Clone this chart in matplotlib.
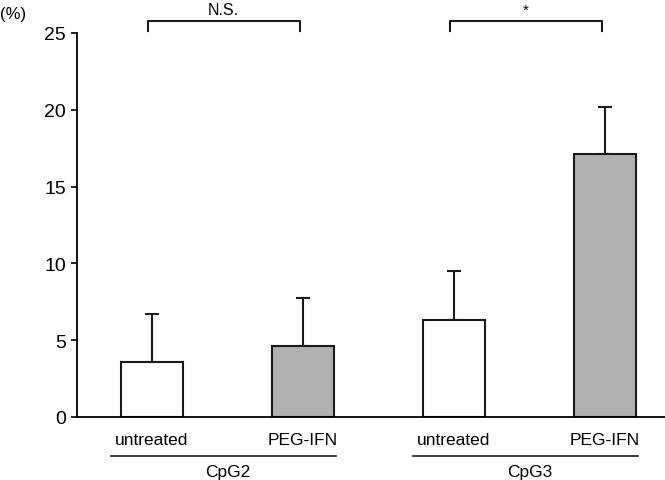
import matplotlib
matplotlib.use("Agg")
import matplotlib.pyplot as plt

plt.rcParams['font.family'] = ['Liberation Sans', 'DejaVu Sans']

treatments = ["untreated", "PEG-IFN", "untreated", "PEG-IFN"]
groups = ["CpG2", "CpG3"]
means = [3.6, 4.6, 6.3, 17.1]
errors = [3.1, 3.15, 3.2, 3.1]
colors = ["white", "#b0b0b0", "white", "#b0b0b0"]
significance = ["N.S.", "*"]
yticks = [0, 5, 10, 15, 20, 25]

fig = plt.figure(figsize=(6.65, 4.81), dpi=100)
ax = fig.add_axes([77/665, 63/481, 1 - 77/665, (418-34)/481])

x = list(range(len(means)))
ax.bar(x, means, width=0.41, color=colors, edgecolor="#1a1a1a", linewidth=1.5, zorder=2)
ax.errorbar(x, means, yerr=[[0]*len(means), errors], fmt="none", ecolor="#1a1a1a",
            elinewidth=1.5, capsize=5, capthick=1.5, zorder=1)

ax.set_xlim(-0.497, 3.397)
ax.set_ylim(0, 25)
ax.set_yticks(yticks)
ax.set_yticklabels([str(t) for t in yticks], fontsize=14)
ax.set_xticks([])
ax.tick_params(axis="y", direction="out", length=4, width=1.2, pad=4)
for s in ["top", "right"]:
    ax.spines[s].set_visible(False)
ax.spines["left"].set_linewidth(1.3)
ax.spines["bottom"].set_linewidth(1.3)

# treatment labels
for xi, t in zip(x, treatments):
    ax.text(xi, -1.45, t, ha="center", va="center", fontsize=12.5)

# group underlines and labels
for gi, g in enumerate(groups):
    x0 = 2*gi - 0.27
    x1 = 2*gi + 1 + 0.22
    ax.plot([x0, x1], [-2.55, -2.55], color="#1a1a1a", lw=1.2, clip_on=False)
    ax.text((2*gi + 2*gi + 1)/2, -3.55, g, ha="center", va="center", fontsize=12.5)

# significance brackets
for gi, sig in enumerate(significance):
    xa = 2*gi - 0.03
    xb = 2*gi + 1 - 0.02
    yb = 25.75
    ax.plot([xa, xa, xb, xb], [yb - 0.6, yb, yb, yb - 0.6], color="#1a1a1a", lw=1.5,
            clip_on=False, solid_joinstyle="round")
    ax.text((xa + xb)/2, yb + 0.3, sig, ha="center", va="bottom",
            fontsize=11.5 if sig != "*" else 11)

fig.text(0.0, 1 - 14/481, "(%)", ha="left", va="center", fontsize=12)

fig.savefig("out.png", dpi=100)
